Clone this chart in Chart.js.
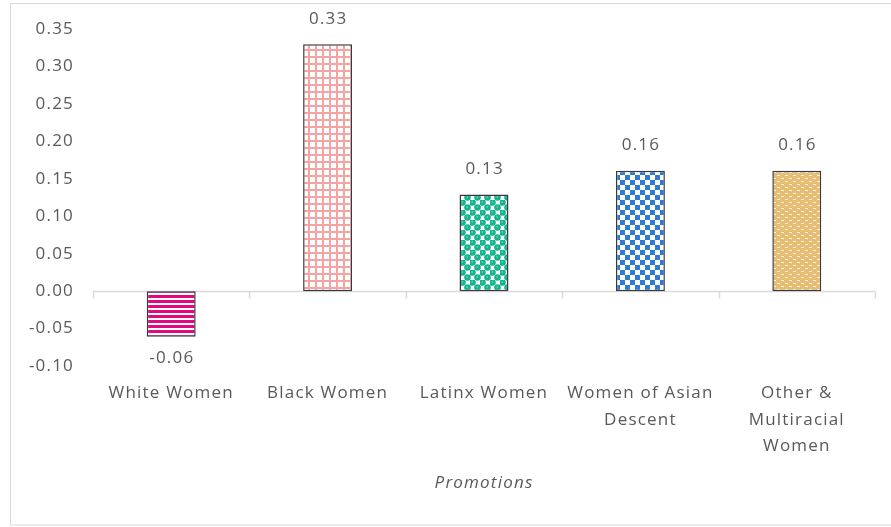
<!DOCTYPE html>
<html>
<head>
<meta charset="utf-8">
<script src="https://cdn.jsdelivr.net/npm/chart.js@4"></script>
<style>
  html, body { margin: 0; padding: 0; background: #fff; }
  #wrap { width: 891px; height: 527px; }
</style>
</head>
<body>
<div id="wrap"><canvas id="chart" width="891" height="527"></canvas></div>
<script>
const categories = [
  ['White Women'],
  ['Black Women'],
  ['Latinx Women'],
  ['Women of Asian', 'Descent'],
  ['Other &', 'Multiracial', 'Women']
];
const values     = [-0.061, 0.33, 0.129, 0.161, 0.161];
const axisTitle  = 'Promotions';
const yMin = -0.10, yMax = 0.35, yStep = 0.05;

const textColor = '#595959';
const fontFamily = '"Open Sans", "Noto Sans", sans-serif';
const spacing = '1.2px';

function makePattern(w, h, draw) {
  const c = document.createElement('canvas');
  c.width = w; c.height = h;
  const g = c.getContext('2d');
  g.fillStyle = '#fff';
  g.fillRect(0, 0, w, h);
  draw(g);
  return document.getElementById('chart').getContext('2d').createPattern(c, 'repeat');
}

// stripes, grid, dots, checks, dashes
const fills = [
  makePattern(5, 5, g => {
    g.fillStyle = '#E2097F';
    g.fillRect(0, 0, 5, 3);
  }),
  makePattern(7, 7, g => {
    g.fillStyle = '#F5A3A3';
    g.fillRect(0, 0, 7, 2);
    g.fillRect(0, 0, 2, 7);
  }),
  makePattern(10, 10, g => {
    g.fillStyle = '#15B38F';
    [[2.5, 2.5], [7.5, 7.5], [-2.5, 7.5], [7.5, -2.5], [12.5, 7.5], [7.5, 12.5]].forEach(([x, y]) => {
      g.beginPath();
      g.arc(x, y, 3.3, 0, Math.PI * 2);
      g.fill();
    });
    g.fillStyle = 'rgba(255,255,255,0.55)';
    g.fillRect(1.5, 1.5, 1.5, 1);
    g.fillRect(6.5, 6.5, 1.5, 1);
  }),
  makePattern(10, 10, g => {
    g.fillStyle = '#2D7BD6';
    g.fillRect(0, 0, 5, 5);
    g.fillRect(5, 5, 5, 5);
  }),
  makePattern(8, 6, g => {
    g.fillStyle = '#E5BE74';
    g.fillRect(0, 0, 8, 6);
    g.fillStyle = '#FBF3E3';
    g.fillRect(1, 1, 3, 1);
    g.fillRect(5, 4, 3, 1);
  })
];

const frame = {
  id: 'frame',
  beforeLayout(chart) { chart.ctx.letterSpacing = spacing; },
  beforeDraw(chart) {
    const ctx = chart.ctx;
    ctx.letterSpacing = spacing;
    ctx.save();
    ctx.strokeStyle = '#D9D9D9';
    ctx.lineWidth = 1;
    ctx.strokeRect(10.5, 3.5, 900, 521.5);
    ctx.restore();
  }
};

const zeroLine = {
  id: 'zeroLine',
  beforeDatasetsDraw(chart) {
    const { ctx, scales: { x, y }, chartArea } = chart;
    const y0 = Math.round(y.getPixelForValue(0)) + 0.5;
    ctx.save();
    ctx.strokeStyle = '#D9D9D9';
    ctx.lineWidth = 1.5;
    ctx.beginPath();
    ctx.moveTo(chartArea.left, y0);
    ctx.lineTo(chartArea.right, y0);
    const half = (x.getPixelForValue(1) - x.getPixelForValue(0)) / 2;
    for (let i = 0; i <= categories.length; i++) {
      const px = Math.round(x.getPixelForValue(i) - half) + 0.5;
      ctx.moveTo(px, y0);
      ctx.lineTo(px, y0 + 7);
    }
    ctx.stroke();
    ctx.restore();
  }
};

const barLabels = {
  id: 'barLabels',
  afterDatasetsDraw(chart) {
    const ctx = chart.ctx;
    const meta = chart.getDatasetMeta(0);
    ctx.save();
    ctx.fillStyle = textColor;
    ctx.font = '17px ' + fontFamily;
    ctx.textAlign = 'center';
    ctx.textBaseline = 'middle';
    meta.data.forEach((bar, i) => {
      const v = values[i];
      const ty = v >= 0 ? bar.y - 25 : bar.y + 21;
      ctx.fillText(v.toFixed(2), bar.x + 0.6, ty);
    });
    ctx.restore();
  }
};

new Chart(document.getElementById('chart'), {
  type: 'bar',
  data: {
    labels: categories,
    datasets: [{
      data: values,
      backgroundColor: fills,
      borderColor: '#3A3A3A',
      borderWidth: 1.5,
      borderSkipped: false,
      barPercentage: 0.313,
      categoryPercentage: 1
    }]
  },
  options: {
    responsive: false,
    animation: false,
    events: [],
    layout: { padding: { top: 29, right: 16, bottom: 30, left: 0 } },
    plugins: { legend: { display: false }, tooltip: { enabled: false } },
    scales: {
      x: {
        grid: { display: false, drawTicks: false },
        border: { display: false },
        ticks: {
          color: textColor,
          font: { family: fontFamily, size: 17, lineHeight: 1.56 },
          padding: 14,
          maxRotation: 0,
          autoSkip: false
        },
        title: {
          display: true,
          text: axisTitle,
          color: textColor,
          font: { family: fontFamily, size: 17, style: 'italic' }
        },
        afterFit(scale) { scale.height = 131; }
      },
      y: {
        min: yMin,
        max: yMax,
        grid: { display: false, drawTicks: false },
        border: { display: false },
        ticks: {
          stepSize: yStep,
          color: textColor,
          font: { family: fontFamily, size: 17 },
          padding: 19,
          callback: v => (Math.abs(v) < 1e-9 ? 0 : Number(v)).toFixed(2)
        },
        afterFit(scale) { scale.width = 93; }
      }
    }
  },
  plugins: [frame, zeroLine, barLabels]
});
</script>
</body>
</html>
